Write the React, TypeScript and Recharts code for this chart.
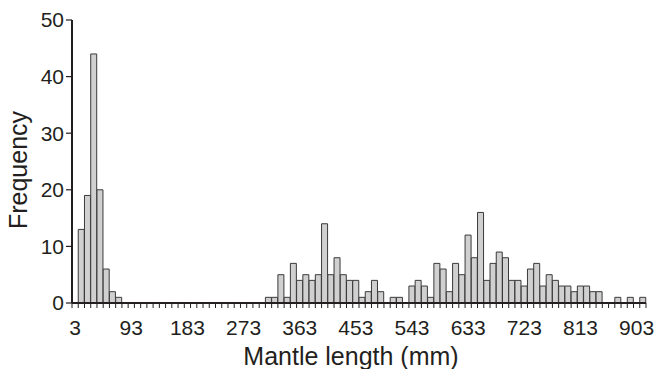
import { BarChart, Bar, XAxis, YAxis } from "recharts";

// bin centres, 10 mm apart (3, 13, ... 913)
const BINS = [
  3, 13, 23, 33, 43, 53, 63, 73, 83, 93,
  103, 113, 123, 133, 143, 153, 163, 173, 183, 193,
  203, 213, 223, 233, 243, 253, 263, 273, 283, 293,
  303, 313, 323, 333, 343, 353, 363, 373, 383, 393,
  403, 413, 423, 433, 443, 453, 463, 473, 483, 493,
  503, 513, 523, 533, 543, 553, 563, 573, 583, 593,
  603, 613, 623, 633, 643, 653, 663, 673, 683, 693,
  703, 713, 723, 733, 743, 753, 763, 773, 783, 793,
  803, 813, 823, 833, 843, 853, 863, 873, 883, 893,
  903, 913,
];

const FREQ = [
  0, 13, 19, 44, 20, 6, 2, 1, 0, 0,
  0, 0, 0, 0, 0, 0, 0, 0, 0, 0,
  0, 0, 0, 0, 0, 0, 0, 0, 0, 0,
  0, 1, 1, 5, 1, 7, 4, 5, 4, 5,
  14, 5, 8, 5, 4, 4, 1, 2, 4, 2,
  0, 1, 1, 0, 3, 4, 3, 1, 7, 6,
  2, 7, 5, 12, 8, 16, 4, 7, 9, 8,
  4, 4, 3, 6, 7, 3, 5, 4, 3, 3,
  2, 3, 3, 2, 2, 0, 0, 1, 0, 1,
  0, 1,
];

const X_LABELS = [3, 93, 183, 273, 363, 453, 543, 633, 723, 813, 903];
const Y_TICKS = [0, 10, 20, 30, 40, 50];

const data = BINS.map((mm, i) => ({ mm, freq: FREQ[i] }));

const W = 656;
const H = 369;
const M = { top: 20, right: 10, left: 0, bottom: 0 };
const Y_W = 72;
const X_H = 66;
const BAND = (W - M.left - M.right - Y_W) / BINS.length;

const INK = "#231f20";
const FONT = "'Liberation Sans', Arial, Helvetica, sans-serif";

function XTick(props: any) {
  const { x, y, payload } = props;
  const left = x - BAND / 2;
  const isLast = payload.value === BINS[BINS.length - 1];
  const showLabel = X_LABELS.includes(payload.value);
  return (
    <g>
      <line x1={left} x2={left} y1={y} y2={y + 5} stroke={INK} strokeWidth={1} />
      {isLast && (
        <line x1={x + BAND / 2} x2={x + BAND / 2} y1={y} y2={y + 5} stroke={INK} strokeWidth={1} />
      )}
      {showLabel && (
        <text x={x} y={y + 32} textAnchor="middle" fontSize={21} fill={INK} fontFamily={FONT}>
          {payload.value}
        </text>
      )}
    </g>
  );
}

export default function App() {
  return (
    <div style={{ position: "absolute", left: 0, top: 0, width: W, height: H, background: "#fff" }}>
      <BarChart width={W} height={H} data={data} margin={M} barCategoryGap={0} barGap={0}>
        <XAxis
          dataKey="mm"
          type="category"
          interval={0}
          height={X_H}
          tickSize={0}
          tickMargin={0}
          tickLine={false}
          tick={<XTick />}
          axisLine={{ stroke: INK, strokeWidth: 2 }}
        />
        <YAxis
          width={Y_W}
          domain={[0, 50]}
          ticks={Y_TICKS}
          tickSize={6}
          tickMargin={2}
          tickLine={{ stroke: INK, strokeWidth: 1.2 }}
          axisLine={{ stroke: INK, strokeWidth: 2 }}
          tick={{ fill: INK, fontSize: 21, fontFamily: FONT }}
        />
        <Bar dataKey="freq" fill="#d0d0d0" stroke="#3a3a3a" strokeWidth={1} isAnimationActive={false} />
      </BarChart>
      <svg width={W} height={H} style={{ position: "absolute", left: 0, top: 0, pointerEvents: "none" }}>
        <text
          x={27}
          y={170}
          transform="rotate(-90, 27, 170)"
          textAnchor="middle"
          fontSize={25}
          fill={INK}
          fontFamily={FONT}
        >
          Frequency
        </text>
        <text x={351} y={365} textAnchor="middle" fontSize={25} fill={INK} fontFamily={FONT}>
          Mantle length (mm)
        </text>
      </svg>
    </div>
  );
}
